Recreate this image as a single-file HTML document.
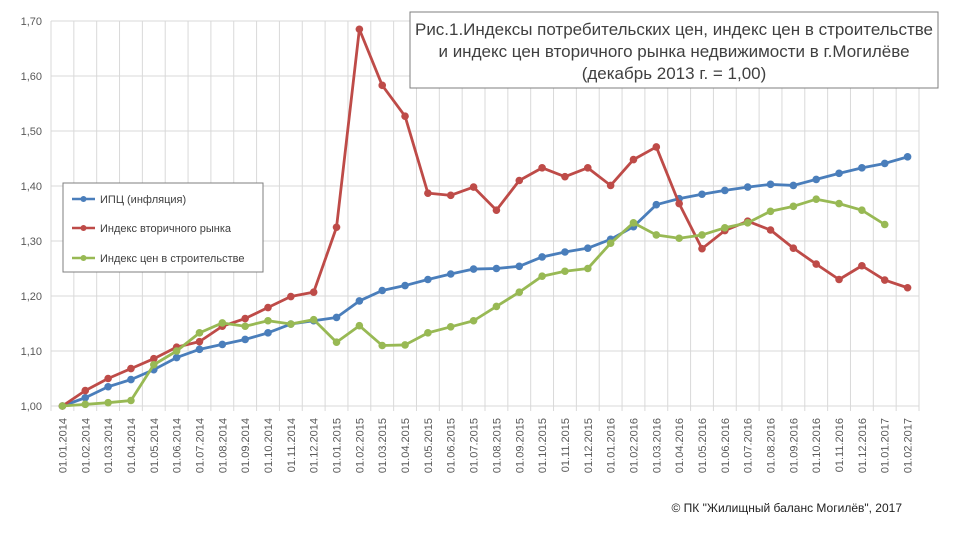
<!DOCTYPE html>
<html><head><meta charset="utf-8"><style>
body{margin:0;background:#fff;}
svg{font-family:"Liberation Sans","DejaVu Sans",sans-serif;}
</style></head><body>
<svg id="c" width="960" height="540" xmlns="http://www.w3.org/2000/svg">
<rect width="960" height="540" fill="#fff"/>
<g id="grid"></g><g id="axes"></g><g id="series"></g>
<g>
<rect x="410" y="12" width="528" height="76" fill="#fff" stroke="#7f7f7f" stroke-width="1"/>
<text x="674" y="35" text-anchor="middle" font-size="17" fill="#404040" textLength="518" lengthAdjust="spacingAndGlyphs">Рис.1.Индексы потребительских цен, индекс цен в строительстве</text>
<text x="674" y="57" text-anchor="middle" font-size="17" fill="#404040">и индекс цен вторичного рынка недвижимости в г.Могилёве</text>
<text x="674" y="79" text-anchor="middle" font-size="17" fill="#404040">(декабрь 2013 г. = 1,00)</text>
</g>
<g>
<rect x="63" y="183" width="200" height="89" fill="#fff" stroke="#7f7f7f"/>
<g><line x1="72" y1="199" x2="95" y2="199" stroke="#4a7ebb" stroke-width="2.5"/><circle cx="83.5" cy="199" r="3" fill="#4a7ebb"/><text x="100" y="203" font-size="11" fill="#404040">ИПЦ (инфляция)</text></g>
<g><line x1="72" y1="228" x2="95" y2="228" stroke="#be4b48" stroke-width="2.5"/><circle cx="83.5" cy="228" r="3" fill="#be4b48"/><text x="100" y="232" font-size="11" fill="#404040">Индекс вторичного рынка</text></g>
<g><line x1="72" y1="258" x2="95" y2="258" stroke="#98b954" stroke-width="2.5"/><circle cx="83.5" cy="258" r="3" fill="#98b954"/><text x="100" y="262" font-size="11" fill="#404040">Индекс цен в строительстве</text></g>
</g>
<text x="902" y="512" text-anchor="end" font-size="12" fill="#222">© ПК "Жилищный баланс Могилёв", 2017</text>
</svg>
<script>
const categories=[];
for(let y=2014;y<=2017;y++)for(let m=1;m<=12;m++){if(y===2017&&m>2)break;categories.push('01.'+String(m).padStart(2,'0')+'.'+y);}
const yTicks=[1.0,1.1,1.2,1.3,1.4,1.5,1.6,1.7];
const cpi=[1.00,1.015,1.035,1.048,1.066,1.088,1.103,1.112,1.121,1.133,1.149,1.155,1.161,1.191,1.210,1.219,1.230,1.240,1.249,1.250,1.254,1.271,1.280,1.287,1.303,1.326,1.366,1.377,1.385,1.392,1.398,1.403,1.401,1.412,1.423,1.433,1.441,1.453];
const secondary=[1.00,1.028,1.050,1.068,1.086,1.107,1.117,1.145,1.159,1.179,1.199,1.207,1.325,1.685,1.583,1.527,1.387,1.383,1.398,1.356,1.410,1.433,1.417,1.433,1.401,1.448,1.471,1.368,1.286,1.319,1.336,1.320,1.287,1.258,1.230,1.255,1.229,1.215];
const construction=[1.00,1.003,1.006,1.010,1.075,1.100,1.133,1.151,1.145,1.155,1.149,1.157,1.116,1.146,1.110,1.111,1.133,1.144,1.155,1.181,1.207,1.236,1.245,1.250,1.296,1.333,1.311,1.305,1.311,1.324,1.333,1.354,1.363,1.376,1.368,1.356,1.330];
const NS='http://www.w3.org/2000/svg';
const L=51,R=919,T=21,B=406,yMin=1.0,yMax=1.7;
const step=(R-L)/categories.length;
const xs=i=>L+step*(i+0.5);
const ys=v=>B-(v-yMin)/(yMax-yMin)*(B-T);
function mk(tag,at,parent){const e=document.createElementNS(NS,tag);for(const k in at)e.setAttribute(k,at[k]);parent.appendChild(e);return e;}
const grid=document.getElementById('grid'),axes=document.getElementById('axes'),ser=document.getElementById('series');
yTicks.forEach(t=>{
 const g=mk('line',{x1:L,x2:R,y1:ys(t),y2:ys(t),stroke:'#d9d9d9','stroke-width':1},grid);
 
 
 const tx=mk('text',{x:L-9,y:ys(t)+4,'text-anchor':'end','font-size':11,fill:'#595959'},axes);
 tx.textContent=t.toFixed(2).replace('.',',');
 
 
});
for(let i=0;i<=categories.length;i++){
 const g=mk('line',{x1:L+step*i,x2:L+step*i,y1:T,y2:B+5,stroke:'#d9d9d9','stroke-width':1},grid);
 
 
}
categories.forEach((c,i)=>{
 const x=xs(i)+4,y=418;
 const tx=mk('text',{x:x,y:y,'text-anchor':'end','font-size':11,fill:'#595959',transform:`rotate(-90 ${x} ${y})`},axes);
 tx.textContent=c;
 
 
});
function draw(data,color,name){
 const g=mk('g',{},ser);
 
 
 const p=mk('polyline',{points:data.map((v,i)=>xs(i)+','+ys(v)).join(' '),fill:'none',stroke:color,'stroke-width':2.8,'stroke-linejoin':'round'},g);
 
 
 data.forEach((v,i)=>{
  const c=mk('circle',{cx:xs(i),cy:ys(v),r:3.8,fill:color},g);
  
  
 });
}
draw(cpi,'#4a7ebb','series-cpi');
draw(secondary,'#be4b48','series-secondary');
draw(construction,'#98b954','series-construction');
</script>
</body></html>
